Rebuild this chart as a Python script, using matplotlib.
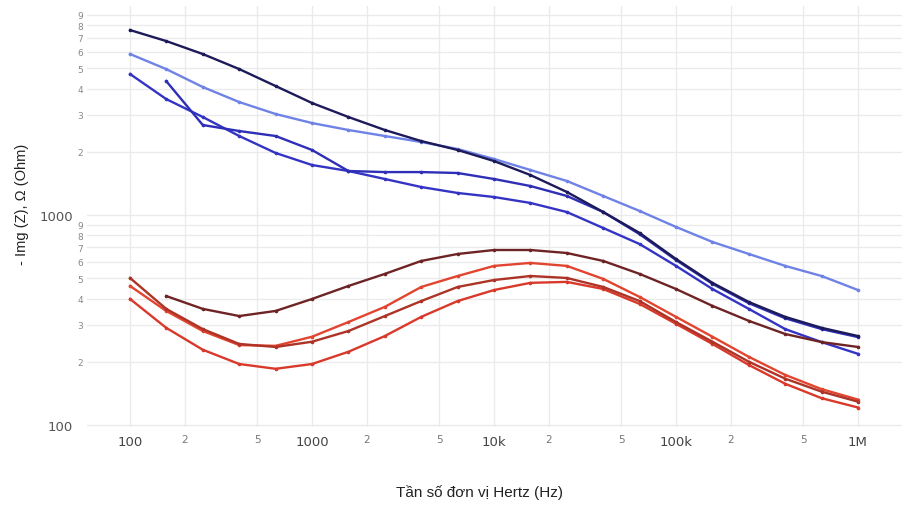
import matplotlib
matplotlib.use("Agg")
import matplotlib.pyplot as plt
from matplotlib.ticker import FixedLocator, FixedFormatter

# frequencies (Hz), 5 points per decade
freq = [100, 158, 251, 398, 631, 1000, 1585, 2512, 3981, 6310, 10000,
        15849, 25119, 39811, 63096, 100000, 158489, 251189, 398107,
        630957, 1000000]

# -Im(Z) in Ohm
blue_dark = [7603, 6740, 5845, 4956, 4114, 3415, 2929, 2540, 2250, 2040, 1807,
             1550, 1287, 1033, 821, 617, 475, 385, 327, 290, 265]
blue_light = [5845, 4956, 4070, 3452, 3027, 2742, 2540, 2378, 2227, 2062, 1848,
              1638, 1452, 1232, 1045, 877, 744, 652, 572, 512, 439]
blue_mid = [4693, 3567, 2929, 2378, 1974, 1730, 1620, 1484, 1359, 1273, 1218,
            1141, 1033, 867, 727, 572, 444, 357, 286, 248, 218]
blue_b4 = [None, 4345, 2683, 2512, 2378, 2040, 1620, 1601, 1601, 1585, 1484,
           1374, 1232, 1033, 810, 610, 470, 380, 322, 286, 262]

red_brown = [None, 411, 357, 330, 349, 398, 459, 524, 604, 652, 681,
             681, 659, 604, 524, 444, 369, 313, 271, 248, 235]
red_a = [501, 357, 286, 243, 235, 249, 280, 330, 389, 454, 490,
         512, 501, 454, 389, 309, 249, 200, 166, 144, 129]
red_b = [459, 349, 280, 240, 238, 263, 309, 365, 454, 512, 572,
         591, 572, 496, 407, 327, 263, 211, 173, 148, 132]
red_c = [398, 290, 228, 195, 185, 195, 223, 265, 327, 389, 439,
         475, 480, 444, 377, 303, 243, 193, 157, 134, 121]

series = [
    (blue_light, '#6f82e6'),
    (blue_mid, '#3434c4'),
    (blue_b4, '#2e2eb6'),
    (blue_dark, '#1d1a5a'),
    (red_c, '#d8392a'),
    (red_b, '#e2452f'),
    (red_a, '#ad3326'),
    (red_brown, '#6e2424'),
]

x_major = [100, 1000, 10000, 100000, 1000000]
x_major_labels = ['100', '1000', '10k', '100k', '1M']
x_minor = [200, 500, 2000, 5000, 20000, 50000, 200000, 500000]
x_minor_labels = ['2', '5'] * 4

y_major = [100, 1000]
y_major_labels = ['100', '1000']
y_minor = [200, 300, 400, 500, 600, 700, 800, 900,
           2000, 3000, 4000, 5000, 6000, 7000, 8000, 9000]
y_minor_labels = ['2', '3', '4', '5', '6', '7', '8', '9'] * 2

fig = plt.figure(figsize=(9.12, 5.06), dpi=100)
ax = fig.add_axes([87 / 912, 78 / 506, 815 / 912, 421 / 506])

for vals, col in series:
    xs = [f for f, v in zip(freq, vals) if v is not None]
    ys = [v for v in vals if v is not None]
    ax.plot(xs, ys, color=col, lw=1.7, marker='o', ms=1.6, zorder=3)

ax.set_xscale('log')
ax.set_yscale('log')
ax.set_xlim(58, 1.745e6)
ax.set_ylim(97.7, 9900)

ax.xaxis.set_major_locator(FixedLocator(x_major))
ax.xaxis.set_major_formatter(FixedFormatter(x_major_labels))
ax.xaxis.set_minor_locator(FixedLocator(x_minor))
ax.xaxis.set_minor_formatter(FixedFormatter(x_minor_labels))
ax.yaxis.set_major_locator(FixedLocator(y_major))
ax.yaxis.set_major_formatter(FixedFormatter(y_major_labels))
ax.yaxis.set_minor_locator(FixedLocator(y_minor))
ax.yaxis.set_minor_formatter(FixedFormatter(y_minor_labels))

ax.tick_params(which='both', length=0)
ax.tick_params(axis='x', which='major', labelsize=9.5, labelcolor='#444444', pad=6)
ax.tick_params(axis='x', which='minor', labelsize=7.5, labelcolor='#777777', pad=5)
ax.tick_params(axis='y', which='major', labelsize=9.5, labelcolor='#555555', pad=10)
ax.tick_params(axis='y', which='minor', labelsize=6.5, labelcolor='#888888', pad=3)

ax.grid(True, which='both', color='#ebebeb', lw=1)
ax.set_axisbelow(True)
for s in ax.spines.values():
    s.set_visible(False)

fig.text(479 / 912, 1 - 493 / 506, 'Tần số đơn vị Hertz (Hz)', ha='center', va='center',
         fontsize=11, family='Liberation Sans', color='#222222')
fig.text(22 / 912, 1 - 204 / 506, '- Img (Z), Ω (Ohm)', ha='center', va='center',
         rotation=90, fontsize=10.5, family='Liberation Sans', color='#222222')

fig.savefig('out.png', dpi=100)
